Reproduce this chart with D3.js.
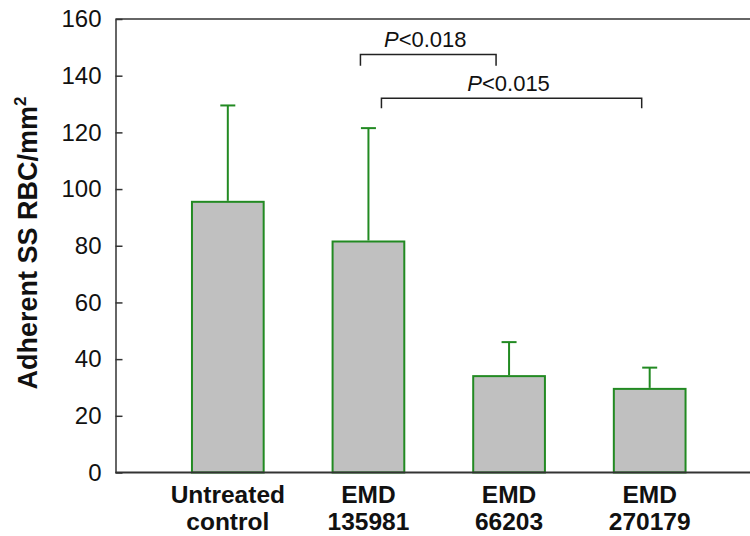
<!DOCTYPE html>
<html>
<head>
<meta charset="utf-8">
<script src="https://cdn.jsdelivr.net/npm/d3@7"></script>
<style>
  body { margin: 0; background: #fff; }
  svg { display: block; }
  text { font-family: "Liberation Sans", Arial, sans-serif; }
</style>
</head>
<body>
<svg id="chart" width="750" height="536"></svg>
<script>
const categories = [["Untreated", "control"], ["EMD", "135981"], ["EMD", "66203"], ["EMD", "270179"]];
const means = [95.5, 81.5, 34, 29.5];
const errUpper = [129.5, 121.5, 46, 37];
const yTicks = [0, 20, 40, 60, 80, 100, 120, 140, 160];
const comparisons = [
  { from: 1, to: 2, label: "<0.018", y: 147.5, drop: 4 },
  { from: 1, to: 3, label: "<0.015", y: 132, drop: 3.5 }
];

(function () {
const svg = d3.select("#chart");
const W = 750;
const mLeft = 115.5, mTop = 19, mBottom = 472.5;

const y = d3.scaleLinear().domain([0, 160]).range([mBottom, mTop]);
const x = d3.scaleBand().domain(d3.range(categories.length)).range([157.5, 720]).paddingInner(0.49).paddingOuter(0.245);
const bw = x.bandwidth();
const cx = i => x(i) + bw / 2;

const axisColor = "#333";
const green = "#228a22";

// Bars
svg.selectAll("rect.bar").data(means).join("rect")
  .attr("class", "bar")
  .attr("x", (d, i) => x(i))
  .attr("y", d => y(d))
  .attr("width", bw)
  .attr("height", d => y(0) - y(d))
  .attr("fill", "#c0c0c0")
  .attr("stroke", green)
  .attr("stroke-width", 2);

// Error bars
svg.selectAll("line.err").data(errUpper).join("line")
  .attr("class", "err")
  .attr("x1", (d, i) => cx(i)).attr("x2", (d, i) => cx(i))
  .attr("y1", (d, i) => y(means[i]) - 1).attr("y2", d => y(d))
  .attr("stroke", green).attr("stroke-width", 2);
svg.selectAll("line.cap").data(errUpper).join("line")
  .attr("class", "cap")
  .attr("x1", (d, i) => cx(i) - 7.5).attr("x2", (d, i) => cx(i) + 7.5)
  .attr("y1", d => y(d)).attr("y2", d => y(d))
  .attr("stroke", green).attr("stroke-width", 2);

// Frame lines
svg.append("line").attr("x1", mLeft).attr("x2", W).attr("y1", y(160)).attr("y2", y(160))
  .attr("stroke", axisColor).attr("stroke-width", 1.5);
svg.append("line").attr("x1", mLeft).attr("x2", W).attr("y1", y(0)).attr("y2", y(0))
  .attr("stroke", axisColor).attr("stroke-width", 2);

// Y axis
const yAxis = d3.axisLeft(y).tickValues(yTicks).tickSizeInner(-7).tickSizeOuter(0).tickPadding(14);
const ga = svg.append("g").attr("transform", `translate(${mLeft},0)`).call(yAxis);
ga.select(".domain").attr("stroke", axisColor).attr("stroke-width", 1.5);
ga.selectAll(".tick line").attr("stroke", axisColor).attr("stroke-width", 1.5);
ga.selectAll(".tick text").attr("font-size", 24).attr("fill", "#111")
  .attr("font-family", "Liberation Sans, Arial, sans-serif");

// Y title
const yt = svg.append("text")
  .attr("transform", `translate(37,${(91 + 395) / 2}) rotate(-90)`)
  .attr("text-anchor", "middle")
  .attr("font-size", 27).attr("font-weight", "bold").attr("fill", "#111");
yt.append("tspan").text("Adherent SS RBC/mm");
yt.append("tspan").text("2").attr("font-size", 17).attr("dy", -11);

// X labels
const xl = svg.selectAll("text.xl").data(categories).join("text")
  .attr("class", "xl")
  .attr("text-anchor", "middle")
  .attr("font-size", 24.5).attr("font-weight", "bold").attr("fill", "#111");
xl.append("tspan").attr("x", (d, i) => cx(i)).attr("y", 503).text(d => d[0]);
xl.append("tspan").attr("x", (d, i) => cx(i)).attr("y", 530).text(d => d[1]);

// Significance brackets
const bOff = [[-8, -13], [13, -8]];
comparisons.forEach((c, k) => {
  const x1 = cx(c.from) + bOff[k][0], x2 = cx(c.to) + bOff[k][1];
  const yy = y(c.y), yb = y(c.y - c.drop);
  svg.append("path")
    .attr("d", `M${x1},${yb}V${yy}H${x2}V${yb}`)
    .attr("fill", "none").attr("stroke", "#222").attr("stroke-width", 1.5);
  const t = svg.append("text").attr("x", (x1 + x2) / 2 - 3).attr("y", yy - 7)
    .attr("text-anchor", "middle").attr("font-size", 22).attr("fill", "#111");
  t.append("tspan").attr("font-style", "italic").text("P");
  t.append("tspan").text(c.label);
});
})();
</script>
</body>
</html>
